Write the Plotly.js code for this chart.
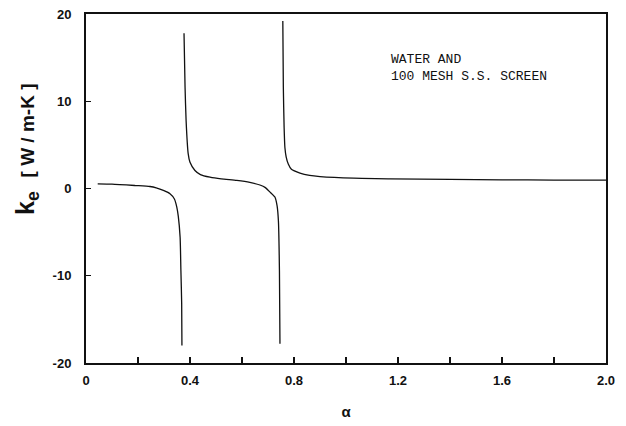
<!DOCTYPE html>
<html>
<head>
<meta charset="utf-8">
<script src="https://cdn.plot.ly/plotly-3.0.1.min.js"></script>
<style>html,body{margin:0;padding:0;background:#fff;}#chart{width:626px;height:426px;}</style>
</head>
<body>
<div id="chart"></div>
<script>
// Branch 1 (below first asymptote)
const alpha1 = [0.045, 0.10, 0.19, 0.246, 0.27, 0.30, 0.323, 0.34, 0.349, 0.355, 0.362, 0.365, 0.368, 0.369];
const ke1    = [0.54, 0.50, 0.34, 0.23, 0.08, -0.25, -0.6, -1.2, -2.1, -3.2, -5.6, -9.4, -13.2, -18.0];
// Branch 2 (between asymptotes)
const alpha2 = [0.377, 0.381, 0.385, 0.393, 0.40, 0.419, 0.44, 0.477, 0.52, 0.58, 0.63, 0.669, 0.69, 0.708, 0.727, 0.735, 0.74, 0.744, 0.746];
const ke2    = [17.8, 11.6, 7.8, 4.0, 3.0, 2.06, 1.6, 1.3, 1.1, 0.92, 0.7, 0.4, 0.1, -0.42, -1.0, -2.0, -3.7, -9.4, -17.8];
// Branch 3 (after second asymptote)
const alpha3 = [0.757, 0.759, 0.762, 0.765, 0.770, 0.778, 0.79, 0.823, 0.86, 0.9, 1.03, 1.17, 1.4, 1.6, 1.8, 2.0];
const ke3    = [19.2, 11.6, 7.0, 4.7, 3.6, 2.8, 2.2, 1.76, 1.5, 1.37, 1.18, 1.11, 1.05, 1.0, 0.97, 0.95];

const xTickVals = [0, 0.4, 0.8, 1.2, 1.6, 2.0];
const xTickText = ['0', '0.4', '0.8', '1.2', '1.6', '2.0'];
const yTickVals = [-20, -10, 0, 10, 20];
const yTickText = ['-20', '-10', '0', '10', '20'];

const lineStyle = {color: '#111', width: 1.3, shape: 'spline', smoothing: 0.6};
const traces = [
  {x: alpha1, y: ke1, mode: 'lines', line: lineStyle, hoverinfo: 'skip', showlegend: false},
  {x: alpha2, y: ke2, mode: 'lines', line: lineStyle, hoverinfo: 'skip', showlegend: false},
  {x: alpha3, y: ke3, mode: 'lines', line: lineStyle, hoverinfo: 'skip', showlegend: false}
];

const tickFont = {family: 'Liberation Sans, Arial, sans-serif', size: 13, color: '#111', weight: 'bold'};

const layout = {
  width: 626, height: 426,
  margin: {l: 86, r: 20, t: 14, b: 63},
  paper_bgcolor: '#fff', plot_bgcolor: '#fff',
  xaxis: {
    range: [0, 2], tickvals: xTickVals, ticktext: xTickText,
    ticks: 'inside', ticklen: 6, tickwidth: 1.2, tickcolor: '#111',
    minor: {dtick: 0.2, tick0: 0, ticks: 'inside', ticklen: 6, tickwidth: 1.2, tickcolor: '#111', showgrid: false},
    showline: true, linewidth: 2, linecolor: '#111', mirror: true,
    showgrid: false, zeroline: false, tickfont: tickFont, ticklabelstandoff: 4,
    title: {text: 'α', font: {family: 'Liberation Sans, Arial, sans-serif', size: 15, color: '#111', weight: 'bold'}, standoff: 20}
  },
  yaxis: {
    range: [-20, 20], tickvals: yTickVals, ticktext: yTickText,
    ticks: 'inside', ticklen: 5, tickwidth: 1.2, tickcolor: '#111',
    showline: true, linewidth: 2, linecolor: '#111', mirror: true,
    showgrid: false, zeroline: false, tickfont: tickFont, ticklabelstandoff: 10
  },
  annotations: [
    {xref: 'paper', yref: 'paper', x: (27 - 86) / 520, y: (363 - 150) / 349,
     xanchor: 'center', yanchor: 'middle', textangle: -90, showarrow: false,
     text: 'k<sub>e</sub>  <span style="font-size:19px">[ W / m-K ]</span>',
     font: {family: 'Liberation Sans, Arial, sans-serif', size: 25, color: '#111', weight: 'bold'}},
    {xref: 'paper', yref: 'paper', x: (389 - 86) / 520, y: (363 - 50) / 349,
     xanchor: 'left', yanchor: 'top', align: 'left', showarrow: false,
     text: 'WATER AND<br>100 MESH S.S. SCREEN',
     font: {family: 'Liberation Mono, DejaVu Sans Mono, monospace', size: 13, color: '#111'}}
  ]
};

Plotly.newPlot('chart', traces, layout, {staticPlot: true, displayModeBar: false});
</script>
</body>
</html>
